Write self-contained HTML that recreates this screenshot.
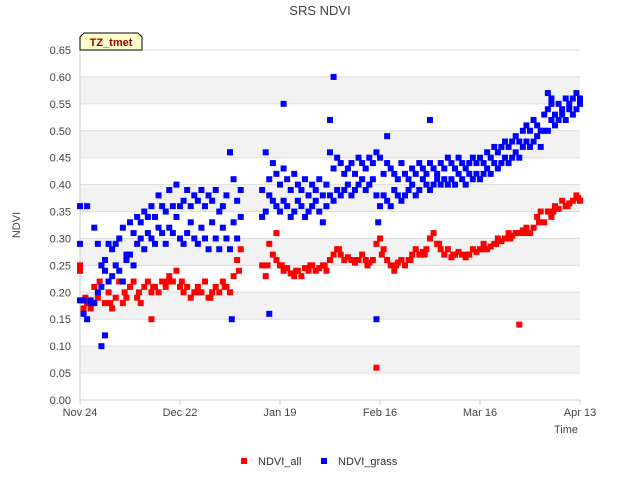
<!DOCTYPE html>
<html><head><meta charset="utf-8"><style>
body{margin:0;background:#fff;}
svg{display:block;font-family:"Liberation Sans","DejaVu Sans",sans-serif;}
</style></head><body>
<svg id="chart" width="640" height="480">
<text x="320" y="15" text-anchor="middle" font-size="13" fill="#444">SRS NDVI</text>
<g id="bands"></g>
<g id="yticks"></g>
<g id="xticks"></g>
<line x1="80" y1="50" x2="80" y2="400" stroke="#ccc"/>
<line x1="80" y1="400" x2="580" y2="400" stroke="#ccc"/>
<g id="marks"></g>
<path d="M80,50 L80,37 L84,33 L138,33 L142,37 L142,50 Z" fill="#ffffcc" stroke="#000"/>
<text x="111" y="46" text-anchor="middle" font-size="11" font-weight="bold" fill="#990000">TZ_tmet</text>
<text x="20" y="225" transform="rotate(-90 20 225)" text-anchor="middle" font-size="11" fill="#444">NDVI</text>
<text x="578" y="433" text-anchor="end" font-size="11" fill="#444">Time</text>
<g><rect x="241" y="458" width="6" height="6" fill="#f00"/><text x="258" y="465" font-size="11" fill="#333">NDVI_all</text></g>
<g><rect x="321" y="458" width="6" height="6" fill="#00f"/><text x="338" y="465" font-size="11" fill="#333">NDVI_grass</text></g>
</svg>
<script>
const xTickLabels=["Nov 24","Dec 22","Jan 19","Feb 16","Mar 16","Apr 13"];
const xTickDays=[0,28,56,84,112,140];
const yTickValues=[0,0.05,0.1,0.15,0.2,0.25,0.3,0.35,0.4,0.45,0.5,0.55,0.6,0.65];
const segAStart=0;
const segBStart=51;
const allSegA=[.24,.17,.18,.17,.21,.19,.25,.18,.20,.17,
 .19,.22,.18,.19,.21,.22,.19,.18,.21,.22,
 .20,.21,.20,.22,.21,.23,.22,.24,.21,.20,
 .21,.19,.20,.21,.20,.22,.19,.20,.21,.20,
 .22,.21,.20,.23,.26,.28];
const allSegB=[.25,.23,.29,.27,.26,.25,.24,.245,.235,.23,
 .24,.23,.245,.24,.25,.24,.245,.25,.24,.26,
 .27,.28,.27,.26,.265,.26,.255,.26,.27,.26,
 .255,.26,.29,.30,.28,.26,.25,.24,.255,.26,
 .25,.26,.27,.28,.27,.275,.28,.30,.31,.29,
 .28,.27,.28,.265,.27,.275,.27,.265,.27,.28,
 .275,.28,.29,.28,.285,.29,.30,.295,.30,.31,
 .305,.31,.31,.315,.32,.31,.32,.34,.35,.33,
 .35,.34,.36,.355,.37,.36,.365,.37,.38,.37];
const allExtraDays=[0,1.5,3.5,5.5,8.5,12.5,16.5,20.5,24.5,28.5,
 32.5,36.5,40.5,44.5,52.5,56.5,60.5,64.5,68.5,72.5,
 76.5,80.5,84.5,88.5,92.5,96.5,100.5,104.5,108.5,112.5,
 116.5,120.5,124.5,128.5,132.5,136.5,83,123,20,55,139.5];
const allExtraVals=[.25,.19,.18,.22,.18,.20,.20,.21,.22,.22,
 .20,.19,.21,.24,.25,.25,.24,.25,.25,.28,
 .26,.25,.27,.25,.26,.27,.29,.27,.27,.28,
 .29,.30,.31,.33,.35,.36,.06,.14,.15,.31,.375];
const grassSegA1=[.185,.16,.15,.18,.18,.20,.21,.24,.22,.23,
 .25,.24,.22,.26,.27,.25,.29,.30,.28,.31,
 .30,.29,.32,.31,.29,.32,.31,.34,.30,.29,
 .31,.33,.30,.29,.32,.30,.28,.33,.30,.28,
 .32,.30,.28,.33,.30,.34];
const grassSegA2=[.29,.185,.36,.185,.32,.29,.25,.26,.29,.28,
 .29,.30,.32,.27,.33,.31,.34,.33,.35,.34,
 .36,.34,.38,.36,.35,.39,.36,.40,.36,.37,
 .39,.36,.38,.37,.39,.36,.38,.37,.39,.35,
 .36,.38,.46,.41,.37,.39];
const grassSegB1=[.34,.35,.38,.37,.36,.35,.37,.36,.34,.35,
 .37,.36,.34,.35,.36,.37,.35,.33,.36,.38,
 .37,.39,.38,.39,.40,.38,.39,.40,.41,.39,
 .40,.41,.38,.36,.38,.37,.36,.39,.38,.37,
 .38,.39,.40,.38,.39,.41,.40,.39,.40,.41,
 .40,.41,.40,.41,.40,.42,.41,.40,.42,.41,
 .42,.41,.42,.43,.42,.44,.43,.44,.45,.44,
 .45,.46,.45,.47,.48,.47,.48,.49,.47,.50,
 .50,.52,.51,.52,.53,.52,.54,.53,.54,.55];
const grassSegB2=[.39,.46,.41,.44,.42,.40,.43,.41,.39,.42,
 .40,.39,.41,.38,.40,.39,.41,.38,.40,.46,
 .43,.45,.44,.42,.43,.44,.42,.45,.44,.43,
 .45,.44,.46,.45,.42,.44,.43,.42,.41,.44,
 .42,.41,.43,.42,.44,.43,.42,.44,.43,.42,
 .44,.43,.45,.44,.43,.45,.44,.43,.44,.45,
 .44,.45,.44,.46,.45,.47,.46,.47,.48,.47,
 .48,.49,.48,.50,.51,.50,.52,.51,.50,.53,
 .54,.55,.53,.55,.54,.56,.55,.56,.57,.56];
const grassExtraDays=[0,6,7,42,42.5,53,57,70,71,83,83.5,86,98,131,132];
const grassExtraVals=[.36,.10,.12,.46,.15,.16,.55,.52,.60,.15,.33,.49,.52,.57,.56];
const X0=80,X1=580,Y0=400,Y1=50,DMAX=140,VMAX=0.65;
function xScale(d){return X0+d*(X1-X0)/DMAX;}
function yScale(v){return Y0-v*(Y0-Y1)/VMAX;}
const NS="http://www.w3.org/2000/svg";
const bands=document.getElementById('bands');
for(let i=0;i<yTickValues.length-1;i++){
  if(i%2===1 && i<12){
    const r=document.createElementNS(NS,'rect');
    
    
    r.setAttribute('x',X0);r.setAttribute('width',X1-X0);
    r.setAttribute('y',yScale(yTickValues[i+1]));
    r.setAttribute('height',yScale(yTickValues[i])-yScale(yTickValues[i+1]));
    r.setAttribute('fill','#f2f2f2');
    bands.appendChild(r);
  }
}
const yt=document.getElementById('yticks');
yTickValues.forEach(v=>{
  const y=yScale(v);
  const l=document.createElementNS(NS,'line');
  
  
  l.setAttribute('x1',X0);l.setAttribute('x2',X1);l.setAttribute('y1',y);l.setAttribute('y2',y);
  l.setAttribute('stroke','#dddddd');
  yt.appendChild(l);
  const t=document.createElementNS(NS,'text');
  
  
  t.setAttribute('x',71);t.setAttribute('y',y+4);t.setAttribute('text-anchor','end');
  t.setAttribute('font-size','11');t.setAttribute('fill','#444');
  t.textContent=v.toFixed(2);
  yt.appendChild(t);
});
const xt=document.getElementById('xticks');
xTickDays.forEach((d,i)=>{
  const x=xScale(d);
  const l=document.createElementNS(NS,'line');
  
  
  l.setAttribute('x1',x);l.setAttribute('x2',x);l.setAttribute('y1',400);l.setAttribute('y2',405);
  l.setAttribute('stroke','#ccc');
  xt.appendChild(l);
  const t=document.createElementNS(NS,'text');
  
  
  t.setAttribute('x',x);t.setAttribute('y',416);t.setAttribute('text-anchor','middle');
  t.setAttribute('font-size','11');t.setAttribute('fill','#444');
  t.textContent=xTickLabels[i];
  xt.appendChild(t);
});
const marks=document.getElementById('marks');
function drawPoint(d,v,color,name){
  if(typeof v!=='number'||isNaN(v))return;
  const r=document.createElementNS(NS,'rect');
  
  
  r.setAttribute('x',xScale(d)-3);r.setAttribute('y',yScale(v)-3);
  r.setAttribute('width',6);r.setAttribute('height',6);
  r.setAttribute('fill',color);
  marks.appendChild(r);
}
function drawSeg(start,vals,color,name){vals.forEach((v,i)=>drawPoint(start+i,v,color,name));}
function drawPairs(days,vals,color,name){for(let i=0;i<Math.min(days.length,vals.length);i++)drawPoint(days[i],vals[i],color,name);}
drawSeg(segAStart,allSegA,'#ff0000','ndvi-all-point');
drawSeg(segBStart,allSegB,'#ff0000','ndvi-all-point');
drawPairs(allExtraDays,allExtraVals,'#ff0000','ndvi-all-point');
drawSeg(segAStart,grassSegA1,'#0000ff','ndvi-grass-point');
drawSeg(segAStart,grassSegA2,'#0000ff','ndvi-grass-point');
drawSeg(segBStart,grassSegB1,'#0000ff','ndvi-grass-point');
drawSeg(segBStart,grassSegB2,'#0000ff','ndvi-grass-point');
drawPairs(grassExtraDays,grassExtraVals,'#0000ff','ndvi-grass-point');
</script>
</body></html>
